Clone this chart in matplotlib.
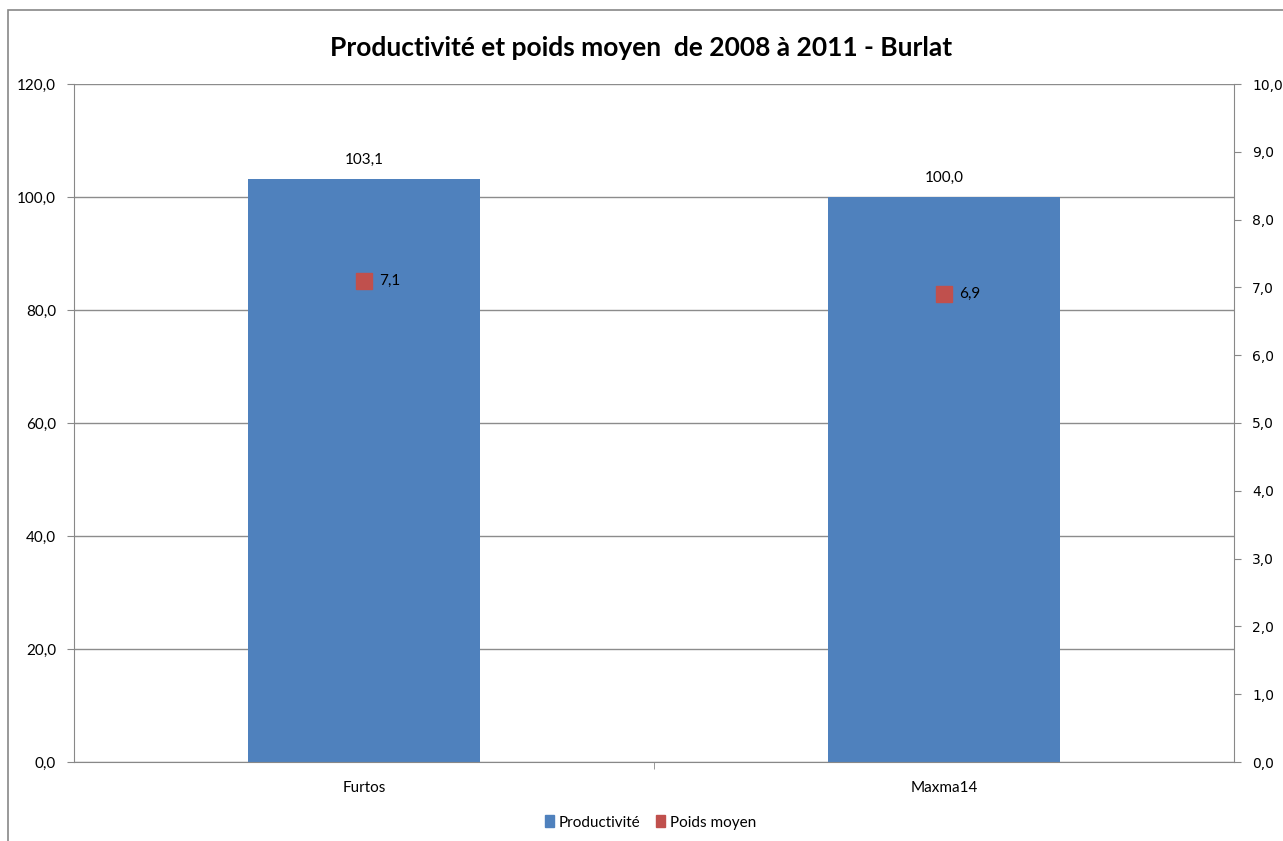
import matplotlib.pyplot as plt
from matplotlib.patches import Rectangle

categories = ["Furtos", "Maxma14"]
productivite = [103.1, 100.0]
poids_moyen = [7.1, 6.9]

plt.rcParams["font.family"] = ["Lato", "DejaVu Sans"]

fig = plt.figure(figsize=(12.83, 8.41), dpi=100)
# chart frame (only left and top edges fall inside the picture)
fig.patches.append(Rectangle((8 / 1283, -0.1), 1.2, 1.1 - 10 / 841 + 0.0,
                             transform=fig.transFigure, fill=False,
                             edgecolor="#888888", linewidth=1.2))

ax = fig.add_axes([74 / 1283, (841 - 762) / 841, 1160 / 1283, 678 / 841])
ax2 = ax.twinx()

x = list(range(len(categories)))
ax.bar(x, productivite, width=0.4, color="#4F81BD", zorder=2)
ax.set_xlim(-0.5, 1.5)
ax.set_ylim(0, 120)
ax.set_yticks(range(0, 121, 20))
ax.set_yticklabels([f"{v:.1f}".replace(".", ",") for v in range(0, 121, 20)], fontsize=11)
ax.set_xticks(x)
ax.set_xticklabels(categories, fontsize=11)
ax.set_xticks([0.5], minor=True)
ax.tick_params(axis="x", which="major", length=0, pad=14)
ax.tick_params(axis="x", which="minor", length=5, color="#888888")
ax.tick_params(axis="y", length=5, color="#888888", pad=8)
ax.grid(axis="y", color="#8c8c8c", linewidth=1, zorder=0)
for s in ["top", "right"]:
    ax.spines[s].set_visible(False)
for s in ["left", "bottom"]:
    ax.spines[s].set_color("#888888")

for xi, v in zip(x, productivite):
    ax.text(xi, v + 2.2, f"{v:.1f}".replace(".", ","), ha="center", va="bottom", fontsize=11)

ax2.plot(x, poids_moyen, linestyle="none", marker="s", markersize=11,
         color="#C0504D", zorder=3)
for xi, v in zip(x, poids_moyen):
    ax2.annotate(f"{v:.1f}".replace(".", ","), (xi, v), xytext=(11, 0),
                 textcoords="offset points", va="center", ha="left", fontsize=11)
ax2.set_ylim(0, 10)
ax2.set_yticks(range(0, 11))
ax2.set_yticklabels([f"{v:.1f}".replace(".", ",") for v in range(0, 11)],
                    fontsize=10, family="DejaVu Sans")
ax2.tick_params(axis="y", length=5, color="#888888", pad=8)
for s in ["top", "left", "bottom"]:
    ax2.spines[s].set_visible(False)
ax2.spines["right"].set_color("#888888")

fig.text(0.5, 0.943, "Productivité et poids moyen  de 2008 à 2011 - Burlat",
         ha="center", va="center", fontsize=19, fontweight="bold")

h1 = Rectangle((0, 0), 1, 1, color="#4F81BD")
h2 = Rectangle((0, 0), 1, 1, color="#C0504D")
fig.legend([h1, h2], ["Productivité", "Poids moyen"], loc="center",
           bbox_to_anchor=(0.507, 0.022), ncol=2, frameon=False, fontsize=11,
           handlelength=0.6, handleheight=0.8, handletextpad=0.3, columnspacing=1.0)

fig.savefig("out.png", dpi=100)
